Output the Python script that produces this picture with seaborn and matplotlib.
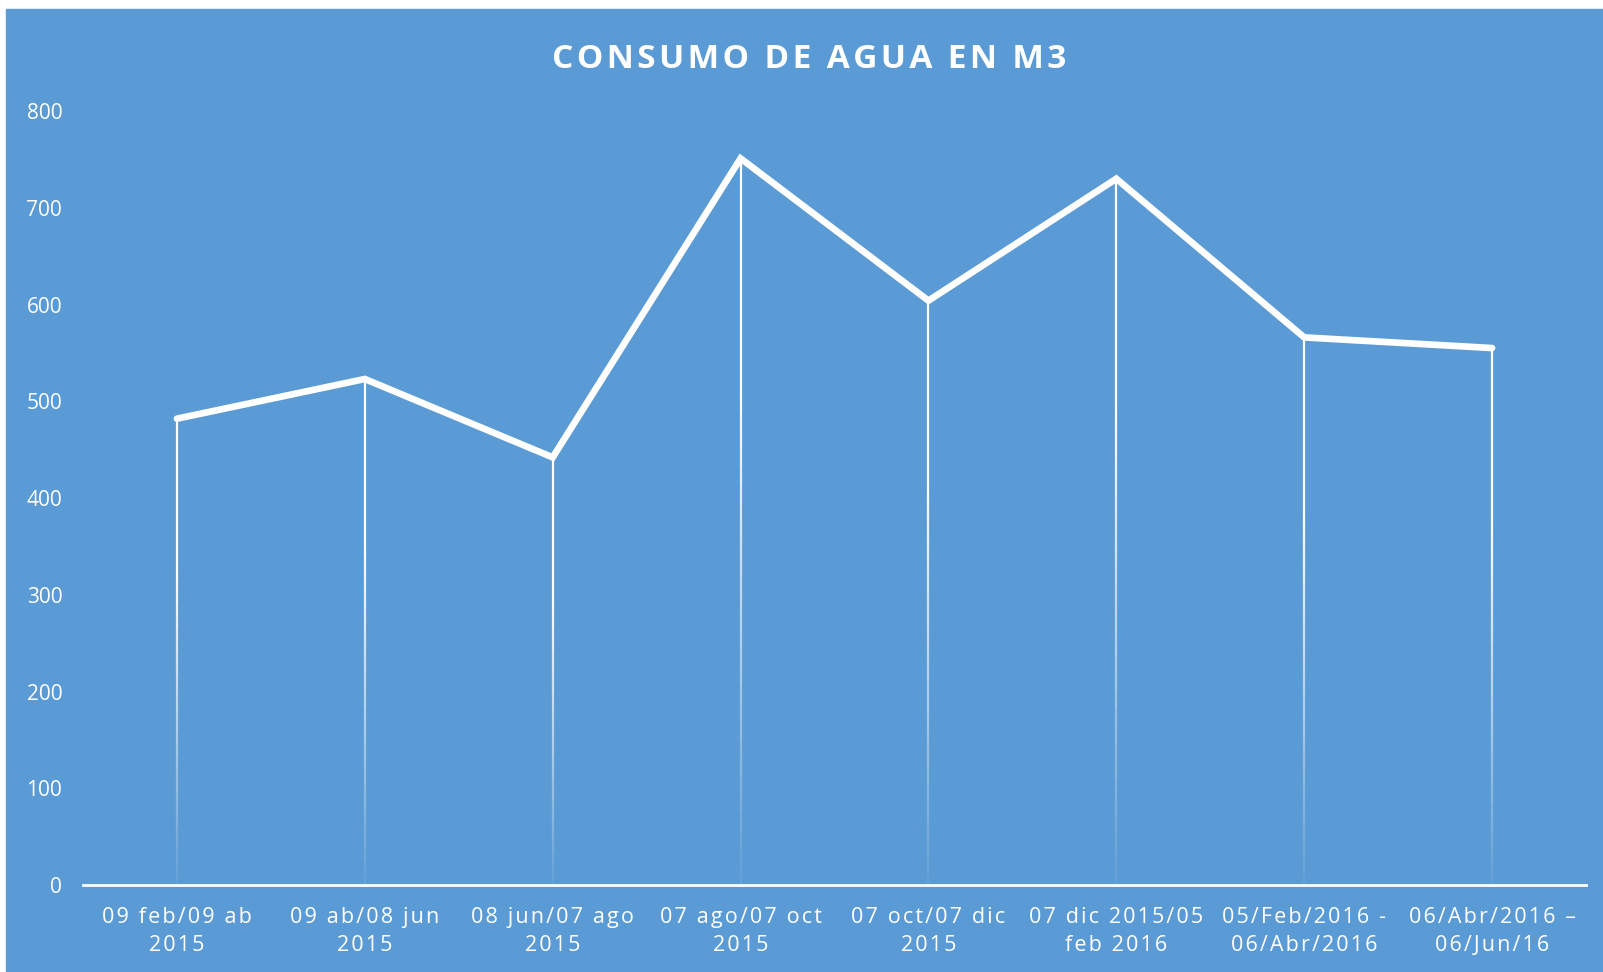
import matplotlib
matplotlib.use("Agg")
from matplotlib import pyplot as plt
import seaborn as sns
import pandas as pd

BLUE = "#5B9BD5"

titulo = "CONSUMO DE AGUA EN M3"
periodos = ["09 feb/09 ab\n2015", "09 ab/08 jun\n2015", "08 jun/07 ago\n2015",
            "07 ago/07 oct\n2015", "07 oct/07 dic\n2015", "07 dic 2015/05\nfeb 2016",
            "05/Feb/2016 -\n06/Abr/2016", "06/Abr/2016 \u2013\n06/Jun/16"]
consumo = [482, 523, 442, 751, 604, 730, 566, 555]
yticks = [0, 100, 200, 300, 400, 500, 600, 700, 800]

df = pd.DataFrame({"periodo": periodos, "consumo": consumo})


def spaced(s):
    # letter spacing like the original chart
    return "\n".join("\u200a".join(line) for line in s.split("\n"))


sns.set_style("white")
plt.rcParams['font.family'] = ['Open Sans', 'DejaVu Sans']

fig = plt.figure(figsize=(16.03, 9.72), dpi=100, facecolor="white")
# blue chart area (white margin on left / top like the original)
fig.patches.append(plt.Rectangle((6 / 1603, 0), 1, 1 - 9 / 972,
                                 transform=fig.transFigure, color=BLUE, zorder=-10))

ax = fig.add_axes([0.0518, 0.0895, 0.9376, 0.7963])
ax.set_zorder(5)
ax.patch.set_alpha(0)

x = list(range(len(periodos)))

# fading drop lines from each point down to the axis
steps = 40
for i, v in zip(x, consumo):
    for k in range(steps):
        y0 = v * k / steps
        y1 = v * (k + 1) / steps
        a = min(1.0, 0.03 + 1.4 * (k + 1) / steps)
        ax.vlines(i, y0, y1, color="white", lw=1.6, alpha=a, zorder=2)

sns.lineplot(data=df, x=x, y="consumo", ax=ax, color="white", lw=4.8,
             solid_capstyle="round", solid_joinstyle="miter", zorder=3)

ax.set_xlim(-0.5, len(periodos) - 0.5)
ax.set_ylim(0, 800)
ax.set_yticks(yticks)
ax.set_xticks(x)
ax.set_xticklabels([spaced(p) for p in periodos])
ax.tick_params(axis="y", colors="white", labelsize=15, length=0, pad=15)
ax.tick_params(axis="x", colors="white", labelsize=15.5, length=0, pad=16)
for lab in ax.get_xticklabels():
    lab.set_linespacing(1.45)
ax.set_xlabel("")
ax.set_ylabel("")

for s in ["top", "right", "left"]:
    ax.spines[s].set_visible(False)
ax.spines["bottom"].set_color("white")
ax.spines["bottom"].set_linewidth(2)

fig.text(0.505, 0.939, spaced(titulo),
         ha="center", va="center", color="white", fontsize=24, fontweight="bold")

fig.savefig("out.png", dpi=100, facecolor="white")
